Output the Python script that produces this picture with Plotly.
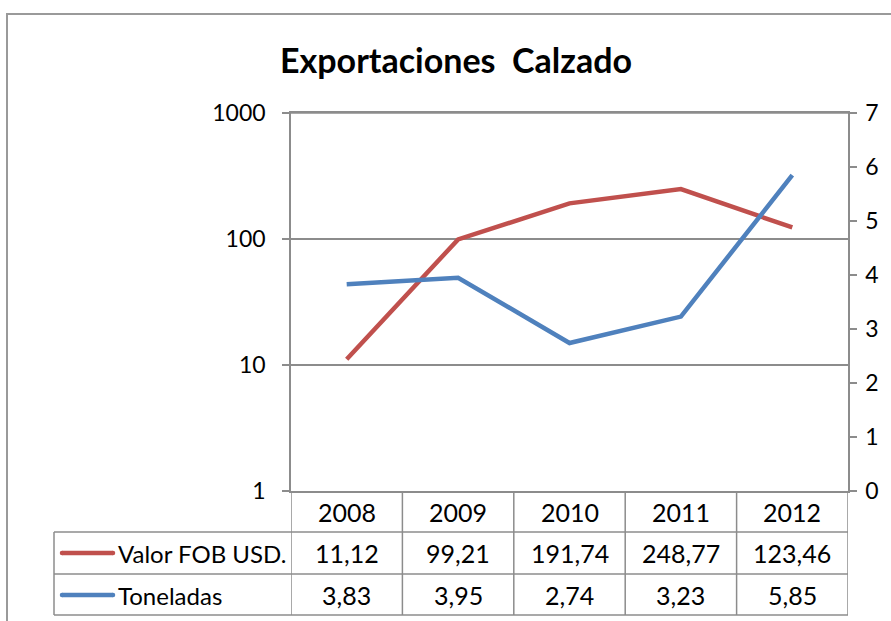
import plotly.graph_objects as go

# Data
years = ["2008", "2009", "2010", "2011", "2012"]
valor_fob = [11.12, 99.21, 191.74, 248.77, 123.46]
toneladas = [3.83, 3.95, 2.74, 3.23, 5.85]
valor_labels = ["11,12", "99,21", "191,74", "248,77", "123,46"]
ton_labels = ["3,83", "3,95", "2,74", "3,23", "5,85"]
series_names = ["Valor FOB USD.", "Toneladas"]

RED = "#C0504D"
BLUE = "#4F81BD"
GRID = "#8C8C8C"
FONT = "Lato"

W, H = 891, 621
L, R, T, B = 291, 848, 113, 491  # plot area in pixels

def px(x):
    return (x - L) / (R - L)

def py(y):
    return (B - y) / (B - T)

fig = go.Figure()
fig.add_trace(go.Scatter(x=years, y=valor_fob, mode="lines", name=series_names[0],
                         line=dict(color=RED, width=4.5), yaxis="y"))
fig.add_trace(go.Scatter(x=years, y=toneladas, mode="lines", name=series_names[1],
                         line=dict(color=BLUE, width=4.5), yaxis="y2"))

shapes = []
annotations = []
line_style = dict(color=GRID, width=1.5)

# outer chart frame
shapes.append(dict(type="rect", xref="paper", yref="paper",
                   x0=px(7), x1=px(W + 20), y0=py(H + 20), y1=py(14),
                   line=dict(color="#9a9a9a", width=2), layer="below"))

# gridline at the top of the log axis
shapes.append(dict(type="line", xref="paper", yref="y",
                   x0=0, x1=1, y0=1000, y1=1000, line=line_style))

# data table grid
row_lines = [532, 574, 615]
for ry in row_lines:
    shapes.append(dict(type="line", xref="paper", yref="paper",
                       x0=px(54), x1=px(R), y0=py(ry), y1=py(ry), line=line_style))
shapes.append(dict(type="line", xref="paper", yref="paper",
                   x0=px(54), x1=px(54), y0=py(532), y1=py(615), line=line_style))
n = len(years)
for i in range(n + 1):
    shapes.append(dict(type="line", xref="x", yref="paper",
                       x0=i - 0.5, x1=i - 0.5, y0=0, y1=py(615), line=line_style))

cell_font = dict(family=FONT, size=24, color="#000000")
num_font = dict(family=FONT, size=25, color="#000000")
for i, yr in enumerate(years):
    for text, cy in [(yr, 512), (valor_labels[i], 553), (ton_labels[i], 595)]:
        annotations.append(dict(x=i, y=py(cy), xref="x", yref="paper", text=text,
                                showarrow=False, xanchor="center", yanchor="middle",
                                font=num_font))

# legend keys inside the table (round-capped strokes)
r_cap = 2.25
for name, color, cy in [(series_names[0], RED, 553), (series_names[1], BLUE, 595)]:
    x0k, x1k = 62, 113
    shapes.append(dict(type="line", xref="paper", yref="paper",
                       x0=px(x0k), x1=px(x1k), y0=py(cy), y1=py(cy),
                       line=dict(color=color, width=4.5)))
    for xc in (x0k, x1k):
        shapes.append(dict(type="circle", xref="paper", yref="paper",
                           x0=px(xc - r_cap), x1=px(xc + r_cap),
                           y0=py(cy + r_cap), y1=py(cy - r_cap),
                           fillcolor=color, line=dict(width=0)))
    annotations.append(dict(x=px(116), y=py(cy), xref="paper", yref="paper", text=name,
                            showarrow=False, xanchor="left", yanchor="middle",
                            font=cell_font))

# title
annotations.append(dict(x=px(456), y=py(59), xref="paper", yref="paper",
                        text="<b>Exportaciones\u00a0 Calzado</b>", showarrow=False,
                        xanchor="center", yanchor="middle",
                        font=dict(family=FONT, size=34, color="#000000")))

fig.update_layout(
    width=W, height=H,
    margin=dict(l=L, r=W - R, t=T, b=H - B, pad=0),
    paper_bgcolor="white", plot_bgcolor="white",
    showlegend=False,
    font=dict(family=FONT, size=23, color="#000000"),
    shapes=shapes, annotations=annotations,
    xaxis=dict(type="category", range=[-0.5, n - 0.5], showticklabels=False,
               showgrid=False, zeroline=False, showline=True, mirror=True,
               linecolor=GRID, linewidth=1.5, ticks=""),
    yaxis=dict(type="log", range=[0, 3], tickvals=[1, 10, 100, 1000],
               ticktext=["1", "10", "100", "1000"],
               showgrid=True, gridcolor=GRID, gridwidth=1.5,
               showline=True, linecolor=GRID, linewidth=1.5,
               ticks="outside", ticklen=7, tickcolor=GRID, tickwidth=1.5,
               ticklabelstandoff=12, zeroline=False),
    yaxis2=dict(overlaying="y", side="right", range=[0, 7], dtick=1,
                showgrid=False, zeroline=False,
                showline=True, linecolor=GRID, linewidth=1.5,
                ticks="outside", ticklen=7, tickcolor=GRID, tickwidth=1.5,
                ticklabelstandoff=4),
)

fig.write_html("out.html")
